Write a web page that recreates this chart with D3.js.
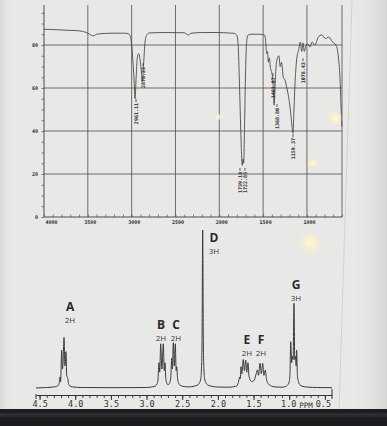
<!DOCTYPE html>
<html>
<head>
<meta charset="utf-8">
<script src="https://cdn.jsdelivr.net/npm/d3@7"></script>
<style>
  body { margin: 0; background: #e8e8e6; }
  svg { display: block; }
</style>
</head>
<body>
<div id="chart"></div>
<script>
// IR spectrum (wavenumber in cm-1, transmittance in %)
const irWavenumber = [4000, 3900, 3800, 3700, 3600, 3560, 3500, 3460, 3430, 3400, 3300, 3200, 3100, 3040, 3015, 3000, 2985, 2970, 2961, 2950, 2935, 2920, 2900, 2885, 2876, 2865, 2850, 2830, 2800, 2600, 2400, 2370, 2350, 2330, 2200, 2000, 1900, 1830, 1800, 1785, 1770, 1755, 1745, 1739, 1730, 1722, 1712, 1700, 1690, 1675, 1640, 1560, 1500, 1480, 1468, 1461, 1450, 1440, 1430, 1415, 1400, 1390, 1374, 1365, 1350, 1335, 1320, 1305, 1290, 1270, 1250, 1230, 1210, 1190, 1170, 1159, 1150, 1135, 1115, 1095, 1075, 1060, 1045, 1030, 1010, 990, 965, 940, 910, 870, 830, 790, 750, 710, 670, 640, 620, 610, 600];
const irTransmittance = [87.3, 87.2, 87, 86.8, 86.6, 86.3, 85.5, 84.5, 84.3, 85, 85.4, 85.5, 85.5, 85.3, 84, 80, 72, 62, 55, 64, 74, 76, 72, 66, 63, 70, 80, 84.5, 85.6, 85.8, 85.7, 85, 84.6, 85.4, 85.8, 85.8, 85.6, 85.4, 84.5, 80, 62, 40, 28, 24, 27, 25, 42, 68, 80, 84.5, 85, 85, 84.8, 84.5, 80, 76, 77, 72, 74, 69, 67, 64, 52, 60, 71, 74, 75, 70, 72, 65, 63.7, 60, 56, 50, 42, 39, 48, 63, 74, 77.7, 81.4, 77, 81, 77, 80, 80.5, 79, 81.4, 80, 83.7, 84.7, 83, 83.7, 81.5, 80, 74, 62, 50, 42];
const irXTicks = [4000, 3500, 3000, 2500, 2000, 1500, 1000];
const irYTicks = [0, 20, 40, 60, 80];
const irPeakText = ["2961.11", "2876.23", "1739.18", "1722.85", "1461.07", "1368.80", "1159.37", "1078.43"];
const irPeakWn = [2950, 2870, 1764, 1707, 1387, 1342, 1159, 1045];
const irPeakTop = [53, 69.8, 21, 21, 65, 50.7, 36.7, 72];

// 1H NMR spectrum (chemical shift in ppm, relative intensity)
const nmrPpm = [4.55, 4.40, 4.28, 4.24, 4.225, 4.214, 4.205, 4.19, 4.18, 4.172, 4.157, 4.145, 4.138, 4.13, 4.12, 4.104, 4.095, 4.08, 4.04, 3.9, 3.5, 3.0,
  2.95, 2.88, 2.855, 2.84, 2.826, 2.815, 2.802, 2.785, 2.765, 2.752, 2.742, 2.73, 2.715, 2.70,
  2.685, 2.67, 2.66, 2.647, 2.637, 2.625, 2.611, 2.597, 2.585, 2.577, 2.565, 2.55, 2.53, 2.5, 2.45,
  2.4, 2.33, 2.28, 2.255, 2.24, 2.23, 2.222, 2.213, 2.204, 2.196, 2.186, 2.17, 2.145, 2.1, 2.0, 1.85,
  1.75, 1.72, 1.705, 1.695, 1.685, 1.676, 1.664, 1.644, 1.628, 1.61, 1.595, 1.578, 1.565, 1.555, 1.54,
  1.517, 1.49, 1.475, 1.463, 1.447, 1.43, 1.41, 1.39, 1.372, 1.355, 1.335, 1.32, 1.31, 1.29, 1.25, 1.2, 1.1,
  1.05, 1.02, 1.0, 0.99, 0.979, 0.965, 0.958, 0.945, 0.933, 0.922, 0.91, 0.903, 0.896, 0.885, 0.87, 0.85, 0.82, 0.75, 0.6, 0.4];
const nmrIntensity = [0, 0.3, 0.8, 1.5, 3, 7, 4, 24, 12, 15, 32, 14, 16, 23, 8, 6, 3, 1.5, 0.7, 0.3, 0.2, 0.3,
  0.5, 1.2, 2.5, 5, 16, 10, 28, 12, 28, 11, 16, 6, 3, 2,
  2.5, 4, 7, 19, 12, 28.7, 14, 28, 11, 13.5, 6, 3, 1.8, 1.2, 0.8,
  0.7, 1.2, 2, 3.5, 6, 12, 30, 100, 30, 12, 6, 3.5, 2, 1.2, 0.6, 0.5,
  1, 2.5, 5, 7, 6, 13.5, 9, 18, 11, 17.7, 10, 16, 8, 6, 4.5,
  4, 5, 7, 9, 11.4, 8, 15.6, 9, 15.6, 8, 11.4, 6, 4, 2.5, 1.2, 0.7, 0.5,
  1, 2, 4, 8, 29.3, 16, 20, 18, 53.6, 18, 20, 14, 24, 8, 4, 2, 1.2, 0.6, 0.3, 0.2];
const nmrTicks = [4.5, 4.0, 3.5, 3.0, 2.5, 2.0, 1.5, 1.0, 0.5];
const nmrLetters = ["A", "B", "C", "D", "E", "F", "G"];
const nmrCounts = ["2H", "2H", "2H", "3H", "2H", "2H", "3H"];
const nmrLabelPpm = [4.073, 2.798, 2.587, 2.055, 1.592, 1.396, 0.905];
const nmrLabelLevel = [48, 36.7, 36.7, 91.8, 27.2, 27.2, 62];

let width = 387, height = 426;

let svg = d3.select('#chart')
  .append('svg')
  .attr('width', width)
  .attr('height', height);

// paper + photo surroundings
svg.append('rect').attr('width', width).attr('height', height).attr('fill', '#e8e8e6');
let defs = svg.append('defs');
let glare = defs.append('radialGradient').attr('id', 'glare');
glare.append('stop').attr('offset', '0%').attr('stop-color', '#fff9d8').attr('stop-opacity', 1);
glare.append('stop').attr('offset', '45%').attr('stop-color', '#fbf3c4').attr('stop-opacity', 0.8);
glare.append('stop').attr('offset', '100%').attr('stop-color', '#f5efd0').attr('stop-opacity', 0);
let shade = defs.append('linearGradient').attr('id', 'shade').attr('x1', 0).attr('x2', 1);
shade.append('stop').attr('offset', '0%').attr('stop-color', '#d8d8d6');
shade.append('stop').attr('offset', '4%').attr('stop-color', '#e8e8e6').attr('stop-opacity', 0);
shade.append('stop').attr('offset', '90%').attr('stop-color', '#e8e8e6').attr('stop-opacity', 0);
shade.append('stop').attr('offset', '100%').attr('stop-color', '#d6d6d4');
svg.append('rect').attr('width', width).attr('height', height).attr('fill', 'url(#shade)');
svg.append('line').attr('x1', 352).attr('y1', 0).attr('x2', 339).attr('y2', 410)
  .attr('stroke', '#d2d2d0').attr('stroke-width', 1);
svg.append('rect').attr('x', 0).attr('y', 409).attr('width', width).attr('height', 17).attr('fill', '#1c1d1f');
svg.append('rect').attr('x', 0).attr('y', 413).attr('width', width).attr('height', 4).attr('fill', '#2c2d30');

// ---------- IR spectrum ----------
let ix = d3.scaleLinear().domain([4000, 600]).range([44, 342]);
let iy = d3.scaleLinear().domain([0, 100]).range([217, 2]);
let gridColor = '#4d4d4d';

let ir = svg.append('g');

// vertical grid lines (plus left axis and right frame)
ir.selectAll('.vgrid')
  .data(irXTicks.concat([600]))
  .enter().append('line')
  .attr('x1', d => ix(d)).attr('x2', d => ix(d))
  .attr('y1', iy(0)).attr('y2', iy(98.6))
  .attr('stroke', gridColor).attr('stroke-width', d => d === 4000 ? 1 : 0.8);

// horizontal grid lines
ir.selectAll('.hgrid')
  .data(irYTicks)
  .enter().append('line')
  .attr('x1', ix(4000)).attr('x2', ix(600))
  .attr('y1', d => iy(d)).attr('y2', d => iy(d))
  .attr('stroke', gridColor).attr('stroke-width', d => d === 0 ? 1 : 0.8);

// minor ticks
ir.append('g')
  .attr('transform', `translate(0, ${iy(0)})`)
  .call(d3.axisBottom(ix).tickValues(d3.range(40, 5, -1).map(d => d * 100)).tickSize(-2.5).tickFormat(''))
  .call(g => g.select('.domain').remove())
  .selectAll('line').attr('stroke', gridColor).attr('stroke-width', 0.7);
ir.append('g')
  .attr('transform', `translate(${ix(4000)}, 0)`)
  .call(d3.axisLeft(iy).tickValues(d3.range(0, 100, 5)).tickSize(2.5).tickFormat(''))
  .call(g => g.select('.domain').remove())
  .selectAll('line').attr('stroke', gridColor).attr('stroke-width', 0.7);

// tick labels
let irXAxis = ir.append('g')
  .attr('transform', `translate(0, ${iy(0)})`)
  .call(d3.axisBottom(ix).tickValues(irXTicks).tickSize(0).tickPadding(3).tickFormat(d3.format('d')));
irXAxis.select('.domain').remove();
irXAxis.selectAll('text')
  .style('font-family', 'DejaVu Sans Mono, monospace')
  .style('font-size', '5px').style('font-weight', 'bold').attr('fill', '#333')
  .attr('text-anchor', d => d === 4000 ? 'start' : 'middle')
  .attr('dx', d => d === 4000 ? 1 : 2);

let irYAxis = ir.append('g')
  .attr('transform', `translate(${ix(4000)}, 0)`)
  .call(d3.axisLeft(iy).tickValues(irYTicks).tickSize(0).tickPadding(6));
irYAxis.select('.domain').remove();
irYAxis.selectAll('text')
  .style('font-family', 'DejaVu Sans Mono, monospace')
  .style('font-size', '5px').style('font-weight', 'bold').attr('fill', '#333');

// IR trace
let irLine = d3.line()
  .x((d, i) => ix(irWavenumber[i]))
  .y(d => iy(d))
  .curve(d3.curveMonotoneX);
ir.append('path')
  .attr('d', irLine(irTransmittance))
  .attr('fill', 'none').attr('stroke', '#4a4a4a').attr('stroke-width', 0.9);

// peak labels
let peaks = ir.selectAll('.peak')
  .data(irPeakText)
  .enter().append('g')
  .attr('transform', (d, i) => `translate(${ix(irPeakWn[i])}, ${iy(irPeakTop[i])})`);
peaks.append('line')
  .attr('x1', 0).attr('x2', 0).attr('y1', -1).attr('y2', -4)
  .attr('stroke', '#333').attr('stroke-width', 0.8);
peaks.append('text')
  .attr('transform', 'rotate(-90)')
  .attr('text-anchor', 'end')
  .attr('dy', '0.35em')
  .style('font-family', 'DejaVu Sans Mono, monospace')
  .style('font-size', '5px').style('font-weight', 'bold')
  .attr('fill', '#333')
  .text(d => d);

// ---------- 1H NMR spectrum ----------
let nx = d3.scaleLinear().domain([4.55, 0.4]).range([36, 332]);
let ny = d3.scaleLinear().domain([0, 100]).range([388, 230]);
let nmr = svg.append('g');

let nmrAxisY = 395;
// minor ticks every 0.1 ppm
nmr.append('g')
  .attr('transform', `translate(0, ${nmrAxisY})`)
  .call(d3.axisBottom(nx).tickValues(d3.range(5, 46).map(d => d / 10)).tickSize(3).tickSizeOuter(0).tickFormat(''))
  .call(g => g.select('.domain').attr('stroke', '#333').attr('stroke-width', 1))
  .selectAll('line').attr('stroke', '#333').attr('stroke-width', 0.9);
let nmrAxis = nmr.append('g')
  .attr('transform', `translate(0, ${nmrAxisY})`)
  .call(d3.axisBottom(nx).tickValues(nmrTicks).tickSize(5).tickPadding(1).tickFormat(d3.format('.1f')));
nmrAxis.select('.domain').remove();
nmrAxis.selectAll('line').attr('stroke', '#333').attr('stroke-width', 1);
nmrAxis.selectAll('text')
  .style('font-family', 'DejaVu Sans Mono, monospace')
  .style('font-size', '8.5px').attr('fill', '#333')
  .attr('dx', d => d === 0.5 ? -2 : (d === 1.0 ? -1 : 0));
// end ticks of the scale bar
nmr.selectAll('.endtick')
  .data([4.55, 0.4])
  .enter().append('line')
  .attr('x1', d => nx(d)).attr('x2', d => nx(d))
  .attr('y1', (d, i) => i === 0 ? nmrAxisY - 1 : nmrAxisY - 6).attr('y2', nmrAxisY + 4)
  .attr('stroke', '#333').attr('stroke-width', 1);
nmr.append('text')
  .attr('x', nx(0.75) - 1)
  .attr('y', nmrAxisY + 12.5)
  .attr('text-anchor', 'middle')
  .style('font-family', 'DejaVu Sans Mono, monospace')
  .style('font-size', '7.5px').attr('fill', '#333')
  .text('PPM');

// NMR trace
let nmrLine = d3.line()
  .x((d, i) => nx(nmrPpm[i]))
  .y(d => ny(d))
  .curve(d3.curveMonotoneX);
nmr.append('path')
  .attr('d', nmrLine(nmrIntensity))
  .attr('fill', 'none').attr('stroke', '#3a3a3a').attr('stroke-width', 1);

// multiplet labels
let lab = nmr.selectAll('.lab')
  .data(nmrLetters)
  .enter().append('g')
  .attr('transform', (d, i) => `translate(${nx(nmrLabelPpm[i])}, ${ny(nmrLabelLevel[i])})`);
lab.append('text')
  .attr('text-anchor', 'middle')
  .attr('y', -1)
  .style('font-family', 'Open Sans, sans-serif')
  .style('font-size', '12px').style('font-weight', 'bold')
  .attr('fill', '#2a2a2a')
  .text(d => d);
lab.append('text')
  .attr('text-anchor', 'middle')
  .attr('y', 11)
  .style('font-family', 'Open Sans, sans-serif')
  .style('font-size', '8px')
  .attr('fill', '#3a3a3a')
  .text((d, i) => nmrCounts[i]);

// glare spots from the photo
let spots = [[218, 117, 4], [335, 118, 8], [313, 163, 6], [310, 243, 12]];
svg.selectAll('.spot')
  .data(spots)
  .enter().append('circle')
  .attr('cx', d => d[0]).attr('cy', d => d[1]).attr('r', d => d[2])
  .attr('fill', 'url(#glare)');
</script>
</body>
</html>
